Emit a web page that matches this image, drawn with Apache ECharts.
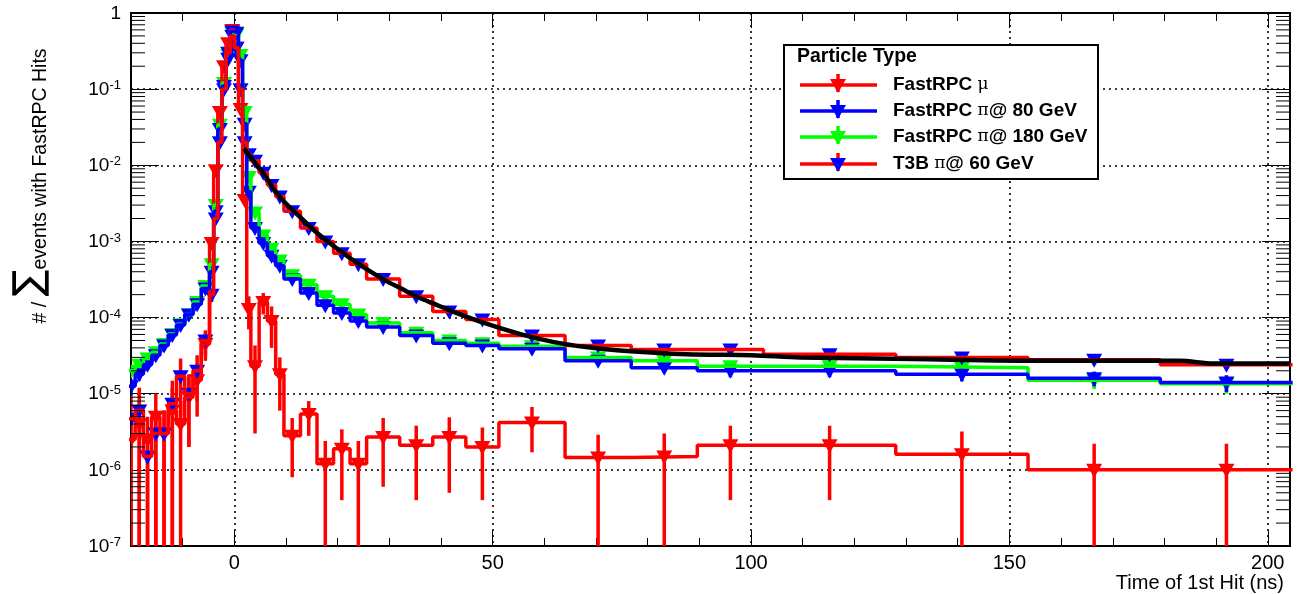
<!DOCTYPE html>
<html>
<head>
<meta charset="utf-8">
<script src="https://cdn.jsdelivr.net/npm/echarts@6/dist/echarts.min.js"></script>
<style>
  html, body { margin: 0; padding: 0; background: #ffffff; }
  #chart { width: 1298px; height: 594px; }
</style>
</head>
<body>
<div id="chart"></div>
<script>
// Variable-width time bins (ns), shared by all four histograms
const binEdges = [-20.8, -19.2, -17.6, -16.0, -14.4, -12.8, -11.2, -9.6, -8.0, -6.4,
  -4.8, -4.0, -3.2, -2.4, -1.6, -0.8, 0.0, 0.8, 1.6, 2.4, 3.2,
  4.8, 6.4, 8.0, 9.6, 12.8, 16.0, 19.2, 22.4, 25.6,
  32.0, 38.4, 44.8, 51.2, 64.0, 76.8, 89.6, 102.4, 128.0, 153.6, 179.2, 204.8];

const seriesNames = ['FastRPC μ', 'FastRPC π@ 80 GeV', 'FastRPC π@ 180 GeV', 'T3B π@ 60 GeV'];
const legendHeader = 'Particle Type';
const xAxisTitle = 'Time of 1st Hit (ns)';

// FastRPC, muons
const muValues = [2.5e-6, 4e-6, 2.5e-6, 5e-6, 3e-6, 6e-6, 4e-6, 9e-6, 1.5e-5, 4.5e-5,
  9.5e-4, 8.6e-3, 5e-2, 0.2, 0.4, 0.6, 0.35, 0.055, 3.5e-3, 1.3e-4,
  2.3e-5, 1.6e-4, 9e-5, 1.8e-5, 2.8e-6, 5.4e-6, 1.2e-6, 1.9e-6, 1.2e-6, 2.7e-6,
  2.1e-6, 2.7e-6, 2.0e-6, 4.2e-6, 1.45e-6, 1.5e-6, 2.1e-6, 2.1e-6, 1.6e-6, 1.0e-6, 1.0e-6];
const muErrors = [2.5e-6, 4e-6, 2.5e-6, 5e-6, 3e-6, 6e-6, 4e-6, 7e-6, 1e-5, 1.8e-5,
  8e-5, 3e-4, 1.2e-3, 3e-3, 5e-3, 6e-3, 4e-3, 1.2e-3, 2.5e-4, 6e-5,
  2e-5, 5e-5, 5e-5, 1.2e-5, 2e-6, 2.6e-6, 1.2e-6, 1.5e-6, 1.2e-6, 2.1e-6,
  1.7e-6, 2.2e-6, 1.6e-6, 2.5e-6, 1.45e-6, 1.5e-6, 1.7e-6, 1.7e-6, 1.6e-6, 1.2e-6, 1.2e-6];

// FastRPC, pions at 80 GeV
const pi80Values = [1.25e-5, 1.8e-5, 2.4e-5, 3.2e-5, 4.3e-5, 5.9e-5, 8.0e-5, 1.1e-4, 1.5e-4, 2.4e-4,
  4.0e-4, 2.5e-3, 3.0e-2, 0.11, 0.25, 0.57, 0.55, 0.24, 3.5e-2, 4.5e-3,
  1.5e-3, 9.5e-4, 6.5e-4, 4.8e-4, 3.2e-4, 2.1e-4, 1.45e-4, 1.15e-4, 9.0e-5, 7.5e-5,
  5.8e-5, 4.6e-5, 4.3e-5, 3.9e-5, 2.7e-5, 2.2e-5, 2.0e-5, 2.0e-5, 1.8e-5, 1.6e-5, 1.4e-5];
const pi80Errors = [3e-6, 3e-6, 3.5e-6, 4e-6, 4.5e-6, 5e-6, 6e-6, 7e-6, 8e-6, 1e-5,
  1.5e-5, 6e-5, 2e-4, 4e-4, 6e-4, 9e-4, 9e-4, 6e-4, 2e-4, 8e-5,
  3e-5, 2.5e-5, 2e-5, 1.7e-5, 1e-5, 8e-6, 7e-6, 6e-6, 5e-6, 4e-6,
  3.5e-6, 3e-6, 3e-6, 2.5e-6, 2.5e-6, 3e-6, 3.5e-6, 3.5e-6, 3.5e-6, 3.5e-6, 3.5e-6];

// FastRPC, pions at 180 GeV
const pi180Values = [2.0e-5, 2.4e-5, 2.9e-5, 3.5e-5, 4.5e-5, 6.1e-5, 8.2e-5, 1.1e-4, 1.6e-4, 2.6e-4,
  5.0e-4, 3.0e-3, 3.4e-2, 0.12, 0.28, 0.55, 0.52, 0.28, 5.0e-2, 7.0e-3,
  2.4e-3, 1.2e-3, 8.0e-4, 5.6e-4, 3.6e-4, 2.7e-4, 1.9e-4, 1.5e-4, 1.1e-4, 8.5e-5,
  6.3e-5, 5.0e-5, 4.6e-5, 4.2e-5, 3.0e-5, 2.7e-5, 2.3e-5, 2.3e-5, 2.2e-5, 1.5e-5, 1.35e-5];
const pi180Errors = [3.5e-6, 3.5e-6, 4e-6, 4.5e-6, 5e-6, 5.5e-6, 6.5e-6, 7.5e-6, 9e-6, 1.1e-5,
  1.6e-5, 6e-5, 2e-4, 4e-4, 6e-4, 9e-4, 9e-4, 6e-4, 2.5e-4, 9e-5,
  4e-5, 3e-5, 2.2e-5, 1.8e-5, 1.1e-5, 9e-6, 7.5e-6, 6.5e-6, 5.5e-6, 4.5e-6,
  4e-6, 3.5e-6, 3.5e-6, 3e-6, 3e-6, 3.5e-6, 3.5e-6, 3.5e-6, 3.5e-6, 3.5e-6, 3.5e-6];

// T3B, pions at 60 GeV
const t3bValues = [4.7e-6, 6e-6, 1.5e-6, 3e-6, 3e-6, 7.4e-6, 1.7e-5, 1e-5, 2e-5, 5e-5,
  2e-4, 2e-3, 2e-2, 0.1, 0.3, 0.5, 0.35, 0.1, 2.0e-2, 1.4e-2,
  1.15e-2, 8e-3, 5.5e-3, 3.9e-3, 2.5e-3, 1.5e-3, 1.0e-3, 7e-4, 5e-4, 3.2e-4,
  1.9e-4, 1.2e-4, 9.4e-5, 5.8e-5, 4.3e-5, 3.8e-5, 3.8e-5, 3.3e-5, 3.0e-5, 2.8e-5, 2.4e-5];
const t3bErrors = [4.7e-6, 6e-6, 1.5e-6, 3e-6, 3e-6, 7.4e-6, 1.2e-5, 8e-6, 1.2e-5, 1.8e-5,
  4e-5, 1.5e-4, 6e-4, 1.5e-3, 3e-3, 4e-3, 3e-3, 1.5e-3, 5e-4, 3.5e-4,
  2e-4, 1.5e-4, 1.2e-4, 1e-4, 6e-5, 4e-5, 3e-5, 2.5e-5, 2e-5, 1.2e-5,
  8e-6, 6e-6, 5e-6, 3e-6, 2.5e-6, 2.5e-6, 2.5e-6, 2e-6, 2e-6, 2e-6, 2e-6];

// Fitted curve through the T3B tail
const fitTime = [1.9, 3.9, 5.9, 7.8, 9.7, 13.0, 16.2, 19.4, 22.6, 25.9, 29.1, 32.3, 35.5, 38.8,
  42.3, 48.8, 55.2, 61.6, 68.1, 74.6, 87.5, 100.3, 109.5, 131.4, 157.0, 183.0, 189.5, 204.3];
const fitValues = [1.66e-2, 1.1e-2, 7.4e-3, 4.7e-3, 3.3e-3, 2.0e-3, 1.26e-3, 8.5e-4, 5.9e-4, 4.2e-4,
  3.1e-4, 2.4e-4, 1.86e-4, 1.5e-4, 1.2e-4, 8.3e-5, 6.1e-5, 4.8e-5, 4.1e-5, 3.7e-5, 3.3e-5,
  3.2e-5, 3.0e-5, 2.85e-5, 2.7e-5, 2.7e-5, 2.5e-5, 2.5e-5];

const X_MIN = -20, X_MAX = 204.3, Y_MIN = 1e-7, Y_MAX = 1;
const FONT = 'Liberation Sans, Arial, Helvetica, sans-serif';
const RED = '#ff0000', BLUE = '#0000ff', GREEN = '#00ff00';
const MARK_W = 8, MARK_UP = 6, MARK_DOWN = 8;

// step outline: one point per lower bin edge, plus the closing upper edge
function stepData(values) {
  const d = values.map((v, i) => [binEdges[i], v]);
  d.push([binEdges[binEdges.length - 1], values[values.length - 1]]);
  return d;
}
// markers at bin centres with the error interval
function markerData(values, errors) {
  return values.map((v, i) => [(binEdges[i] + binEdges[i + 1]) / 2, v,
    Math.max(v - errors[i], 1e-10), v + errors[i]]);
}
function triangleDown(cx, cy) {
  return [[cx - MARK_W, cy - MARK_UP], [cx + MARK_W, cy - MARK_UP], [cx, cy + MARK_DOWN]];
}
function markerRenderer(lineColor, markerColor) {
  return function (params, api) {
    const x = api.value(0);
    const p = api.coord([x, api.value(1)]);
    const lo = api.coord([x, api.value(2)]);
    const hi = api.coord([x, api.value(3)]);
    return {
      type: 'group',
      children: [
        { type: 'line', shape: { x1: p[0], y1: lo[1], x2: p[0], y2: hi[1] },
          style: { stroke: lineColor, lineWidth: 3.5 } },
        { type: 'polygon', shape: { points: triangleDown(p[0], p[1]) }, style: { fill: markerColor } }
      ]
    };
  };
}
function histSeries(name, values, errors, lineColor, markerColor) {
  return [
    { name: name, type: 'line', step: 'end', data: stepData(values), symbol: 'none',
      lineStyle: { color: lineColor, width: 3.5 }, itemStyle: { color: lineColor },
      clip: true, silent: true, animation: false },
    { name: name, type: 'custom', data: markerData(values, errors), encode: { x: 0, y: 1 },
      clip: true, silent: true, animation: false, renderItem: markerRenderer(lineColor, markerColor) }
  ];
}

// log-axis minor tick positions (2..9 per decade)
const minorTickValues = [];
for (let e = -7; e < 0; e++) for (let m = 2; m <= 9; m++) minorTickValues.push([X_MIN, m * Math.pow(10, e)]);

const tickSeries = {
  type: 'custom', data: minorTickValues, encode: { x: 0, y: 1 }, silent: true, animation: false, z: 5,
  renderItem: function (params, api) {
    const v = api.value(1);
    const l = api.coord([X_MIN, v]);
    const r = api.coord([X_MAX, v]);
    return { type: 'group', children: [
      { type: 'line', shape: { x1: l[0], y1: l[1], x2: l[0] + 14, y2: l[1] }, style: { stroke: '#000', lineWidth: 1 } },
      { type: 'line', shape: { x1: r[0], y1: r[1], x2: r[0] - 14, y2: r[1] }, style: { stroke: '#000', lineWidth: 1 } }
    ] };
  }
};

const dotted = { color: '#000', width: 1.6, type: [2, 4] };

const yLabelFormatter = function (value) {
  const e = Math.round(Math.log10(value));
  if (e === 0) return '{b|1}';
  return '{b|10}{s|' + e + '}';
};

// legend drawn as graphic elements
const legendColors = [[RED, RED], [BLUE, BLUE], [GREEN, GREEN], [RED, BLUE]];
const legendRows = [85, 111, 137, 164];
const legendGraphics = [
  { type: 'rect', shape: { x: 784, y: 45, width: 314, height: 134 },
    style: { fill: '#fff', stroke: '#000', lineWidth: 2 }, z: 100 },
  { type: 'text', x: 797, y: 57, z: 101,
    style: { text: legendHeader, font: 'bold 19.5px ' + FONT, fill: '#000', verticalAlign: 'middle' } }
];
seriesNames.forEach((name, i) => {
  const y = legendRows[i];
  const [lc, mc] = legendColors[i];
  legendGraphics.push(
    { type: 'line', shape: { x1: 800, y1: y, x2: 877, y2: y }, style: { stroke: lc, lineWidth: 3.5 }, z: 101 },
    { type: 'line', shape: { x1: 838, y1: y - 11, x2: 838, y2: y + 7 }, style: { stroke: lc, lineWidth: 3.5 }, z: 101 },
    { type: 'polygon', shape: { points: triangleDown(838, y) }, style: { fill: mc }, z: 102 },
    { type: 'text', x: 893, y: y, z: 101,
      style: {
        text: '{b|' + name.replace(/([μπ])/g, '}{g|$1}{b|') + '}',
        verticalAlign: 'middle',
        rich: {
          b: { font: 'bold 19px ' + FONT, fill: '#000' },
          g: { font: '17px "DejaVu Serif", serif', fill: '#000' }
        }
      } }
  );
});

const option = {
  backgroundColor: '#ffffff',
  animation: false,
  grid: { left: 131, right: 8, top: 13, bottom: 48, show: true, borderColor: '#000', borderWidth: 2, backgroundColor: 'transparent' },
  xAxis: [
    { type: 'value', min: X_MIN, max: X_MAX, position: 'bottom',
      axisLine: { show: true, onZero: false, lineStyle: { color: '#000', width: 2 } },
      axisTick: { show: true, inside: true, length: 15, lineStyle: { color: '#000', width: 1 } },
      minorTick: { show: true, splitNumber: 5, length: 8, lineStyle: { color: '#000', width: 1 } },
      splitLine: { show: true, lineStyle: dotted },
      axisLabel: { show: true, showMinLabel: false, showMaxLabel: false, margin: 7, color: '#000', fontSize: 20, fontFamily: FONT } },
    { type: 'value', min: X_MIN, max: X_MAX, position: 'top',
      axisLine: { show: true, onZero: false, lineStyle: { color: '#000', width: 2 } },
      axisTick: { show: true, inside: true, length: 15, lineStyle: { color: '#000', width: 1 } },
      minorTick: { show: true, splitNumber: 5, length: 8, lineStyle: { color: '#000', width: 1 } },
      splitLine: { show: false }, axisLabel: { show: false } }
  ],
  yAxis: [
    { type: 'log', logBase: 10, min: Y_MIN, max: Y_MAX, splitNumber: 7, position: 'left',
      axisLine: { show: true, onZero: false, lineStyle: { color: '#000', width: 2 } },
      axisTick: { show: true, inside: true, length: 28, lineStyle: { color: '#000', width: 1 } },
      splitLine: { show: true, lineStyle: dotted },
      axisLabel: { show: true, margin: 10, formatter: yLabelFormatter,
        rich: {
          b: { fontSize: 19, fontFamily: FONT, color: '#000', lineHeight: 20, padding: [4, 0, 0, 0], verticalAlign: 'bottom' },
          s: { fontSize: 13, fontFamily: FONT, color: '#000', lineHeight: 14, verticalAlign: 'top' }
        } } },
    { type: 'log', logBase: 10, min: Y_MIN, max: Y_MAX, splitNumber: 7, position: 'right',
      axisLine: { show: true, onZero: false, lineStyle: { color: '#000', width: 2 } },
      axisTick: { show: true, inside: true, length: 28, lineStyle: { color: '#000', width: 1 } },
      splitLine: { show: false }, axisLabel: { show: false } }
  ],
  graphic: [
    { type: 'text', x: 1284, y: 583,
      style: { text: xAxisTitle, font: '20px ' + FONT, fill: '#000', align: 'right', verticalAlign: 'middle' } },
    { type: 'text', x: 31, y: 186, rotation: Math.PI / 2,
      style: {
        text: '{a|# / }{s|∑}{a|events with FastRPC Hits}',
        align: 'center', verticalAlign: 'middle',
        rich: {
          a: { font: '19.5px ' + FONT, fill: '#000', verticalAlign: 'bottom', lineHeight: 22 },
          s: { font: '40px "DejaVu Sans", sans-serif', fill: '#000', lineHeight: 40 }
        }
      } }
  ].concat(legendGraphics),
  series: [].concat(
    histSeries(seriesNames[0], muValues, muErrors, RED, RED),
    histSeries(seriesNames[2], pi180Values, pi180Errors, GREEN, GREEN),
    histSeries(seriesNames[1], pi80Values, pi80Errors, BLUE, BLUE),
    histSeries(seriesNames[3], t3bValues, t3bErrors, RED, BLUE),
    [
      { name: 'fit', type: 'line', smooth: 0.3, symbol: 'none',
        data: fitTime.map((t, i) => [t, fitValues[i]]),
        lineStyle: { color: '#000', width: 4.5 }, clip: true, silent: true, animation: false },
      tickSeries
    ]
  )
};

const chart = echarts.init(document.getElementById('chart'), null, { renderer: 'canvas' });
chart.setOption(option);
</script>
</body>
</html>
